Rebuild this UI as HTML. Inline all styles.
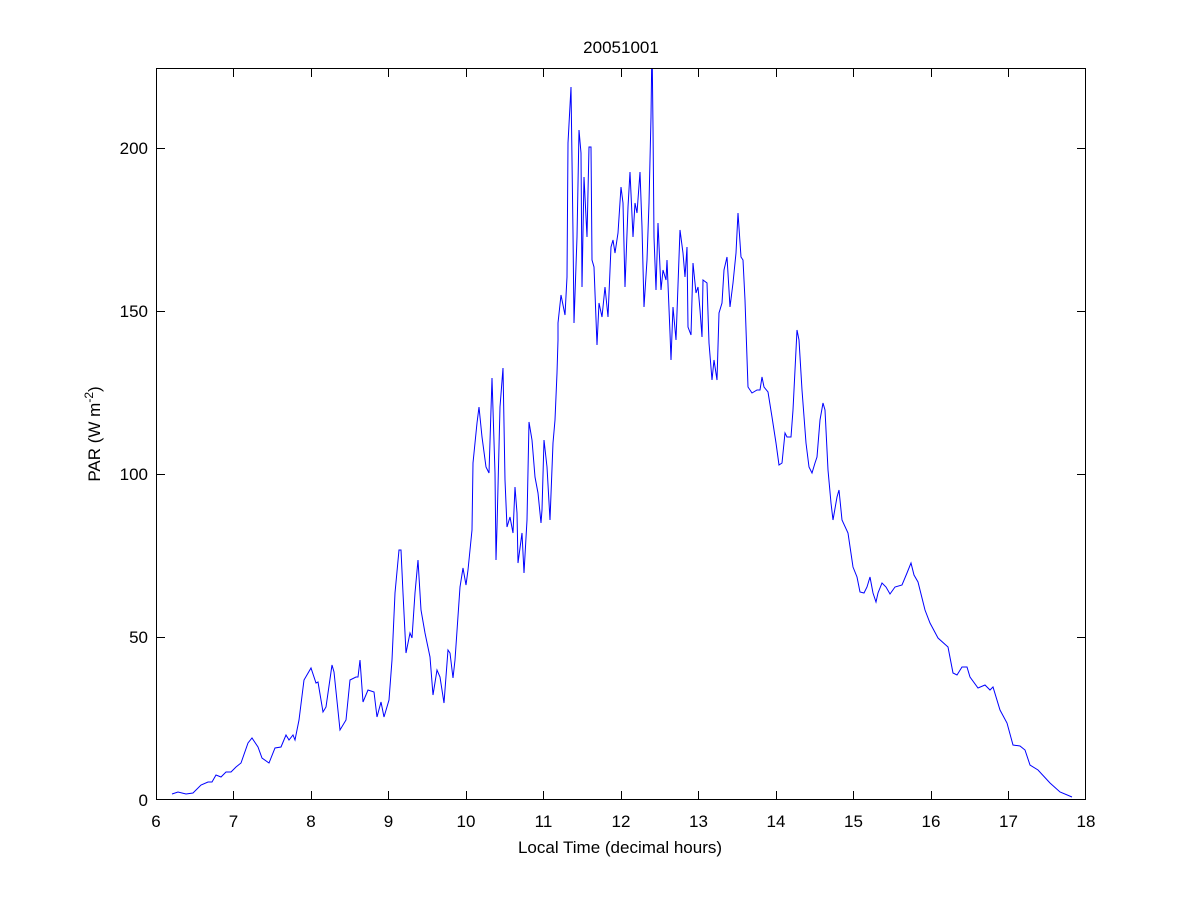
<!DOCTYPE html>
<html><head><meta charset="utf-8"><style>
html,body{margin:0;padding:0;background:#fff;}
svg{display:block;font-family:"Liberation Sans",Arial,sans-serif;}
</style></head><body>
<svg width="1200" height="900" viewBox="0 0 1200 900">
<rect width="1200" height="900" fill="#fff"/>
<defs><clipPath id="c"><rect x="156" y="68" width="930" height="732"/></clipPath></defs>
<polyline clip-path="url(#c)" fill="none" stroke="#0000ff" stroke-width="1" points="
172,794 178,792 186,794 193,793 201,785 208,782 212,782 216,775 221,777 226,772 231,772 236,767 241,763 248,743 252,738 258,747 262,758 269,763 275,748 281,747 286,735 289,740 293,735 295,740 299,720 304,680 311,668 316,683 318,682 323,712 326,707 332,665 334,672 340,730 346,720 350,680 356,677 358,677 360,660 363,702 368,690 374,692 377,717 381,702 384,717 389,700
392,660 395,593 399,550 401,550 403,593 406,653 410,633 412,638 415,593 418,560 421,610 425,633 430,657 433,695 437,670 440,677 444,703 448,650 450,653 453,678 455,660 460,587 463,568 466,585 468,570 472,530 473,463 477,423 479,407 482,437 486,467 489,473 492,378 495,473 496,560 497,527 500,407 503,368 505,480 507,527 510,517 513,533 515,487 517,513 518,563 522,533 524,573 527,520 529,422 532,440 535,477 538,493 541,523 542,510 544,440 547,467 550,520 553,443 555,420 557,373 558,340
558,323 561,295 565,315 567,277 568,143 571,87 573,233 574,323 577,237 579,130 581,153 582,287 584,177 587,237 589,147 591,147 592,260 594,267 597,345 599,303 602,317 605,287 608,317 611,247 613,240 615,253 618,233 621,187 623,203 625,287 628,207 630,172 633,237 635,203 637,213 640,172 642,227 644,307 647,260 649,203 651,117 652,40 653,127 654,237 656,290 658,223 661,290 663,270 666,280 667,260 670,333 671,360 673,307 676,340 680,230 683,253 685,277 687,247 688,327 691,335 693,263 696,293 698,287 700,310 702,337 703,280 707,283 709,343 712,380 714,360 717,380 719,313 722,303 724,270 727,257 730,307 733,283 736,253 738,213 741,257 743,260 745,300 748,387 752,393 757,390 760,390
762,377 764,387 768,392 772,417 776,443 779,465 782,463 785,433 787,437 791,437 793,410 795,370 797,330 799,340 802,390 806,443 809,467 812,473 815,463 817,457 820,420 823,403 825,410 828,470 831,503 833,520 837,497 839,490 842,520 848,533 853,567 857,577 860,592 864,593 867,587 870,577 873,593 876,602 878,593 882,583 886,587 890,594 895,587 902,585 907,573 911,563 914,575 918,582 925,610 930,623 938,638 948,647 953,673 957,675 962,667 967,667 970,677 978,688 985,685 990,690 993,687 1000,710 1007,723 1013,745 1020,746 1025,750 1030,765 1038,770 1050,783 1060,792 1072,797"/>
<rect x="156.5" y="68.5" width="929" height="731" fill="none" stroke="#000" stroke-width="1"/>
<g stroke="#000" stroke-width="1">
<path d="M156.5,800v-9M156.5,68v9M233.5,800v-9M233.5,68v9M311.5,800v-9M311.5,68v9M388.5,800v-9M388.5,68v9M466.5,800v-9M466.5,68v9M543.5,800v-9M543.5,68v9M621.5,800v-9M621.5,68v9M698.5,800v-9M698.5,68v9M776.5,800v-9M776.5,68v9M853.5,800v-9M853.5,68v9M931.5,800v-9M931.5,68v9M1008.5,800v-9M1008.5,68v9M1085.5,800v-9M1085.5,68v9"/>
<path d="M156,799.5h9M1086,799.5h-9M156,637.5h9M1086,637.5h-9M156,474.5h9M1086,474.5h-9M156,311.5h9M1086,311.5h-9M156,148.5h9M1086,148.5h-9"/>
</g>
<g font-size="17" fill="#000" text-anchor="middle">
<text x="156" y="827">6</text><text x="233.5" y="827">7</text><text x="311" y="827">8</text><text x="388.5" y="827">9</text><text x="466" y="827">10</text><text x="543.5" y="827">11</text><text x="621" y="827">12</text><text x="698.5" y="827">13</text><text x="776" y="827">14</text><text x="853.5" y="827">15</text><text x="931" y="827">16</text><text x="1008.5" y="827">17</text><text x="1086" y="827">18</text>
</g>
<g font-size="17" fill="#000" text-anchor="end">
<text x="148" y="806">0</text><text x="148" y="643">50</text><text x="148" y="480">100</text><text x="148" y="317">150</text><text x="148" y="154">200</text>
</g>
<text x="621" y="53" font-size="17" text-anchor="middle">20051001</text>
<text x="620" y="853" font-size="17" text-anchor="middle">Local Time (decimal hours)</text>
<text transform="translate(100,434) rotate(-90)" font-size="17" text-anchor="middle">PAR (W m<tspan font-size="12" dy="-7">-2</tspan><tspan dy="7">)</tspan></text>
</svg>
</body></html>
